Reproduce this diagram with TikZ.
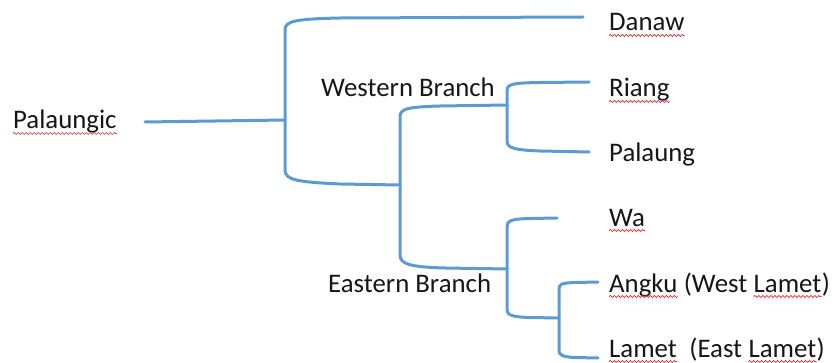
\documentclass[tikz,border=0pt]{standalone}
\usepackage{fontspec}
\setmainfont{Carlito}
\usetikzlibrary{decorations.pathmorphing}
\definecolor{branchblue}{HTML}{5B9BD5}
\definecolor{txt}{HTML}{161616}
\definecolor{splred}{HTML}{E8262A}
\begin{document}
\begin{tikzpicture}[x=1pt,y=-1pt,
  lbl/.style={anchor=base west,inner sep=0pt,text=txt,font=\fontsize{26.8}{30}\selectfont},
  br/.style={draw=branchblue,line width=3pt,line cap=round,line join=round},
  wavy/.style={draw=splred,line width=0.7pt,decorate,decoration={snake,amplitude=1pt,segment length=4pt}}]
\useasboundingbox (0,0) rectangle (834,363);
% labels
\node[lbl] (pal) at (13,129) {Palaungic};
\node[lbl] (west) at (321,97) {Western Branch};
\node[lbl] (east) at (328,292) {Eastern Branch};
\node[lbl] (danaw) at (609,31) {Danaw};
\node[lbl] (riang) at (609,97) {Riang};
\node[lbl] (palaung) at (609,162) {Palaung};
\node[lbl] (wa) at (609,226) {Wa};
\node[lbl] (angku) at (609,292) {Angku};
\node[lbl] (angkub) at (angku.base east) {\ (West\ \null};
\node[lbl] (angkul) at (angkub.base east) {Lamet};
\node[lbl] (angkuc) at (angkul.base east) {)};
\node[lbl] (lamet) at (609,357) {Lamet};
\node[lbl] (lametb) at (lamet.base east) {\ \ (East\ \null};
\node[lbl] (lametl) at (lametb.base east) {Lamet};
\node[lbl] (lametc) at (lametl.base east) {)};
% spelling squiggles
\foreach \n in {pal,danaw,riang,wa,angku,angkul,lamet,lametl}
  \draw[wavy] ([yshift=-4.5pt]\n.base west) -- ([yshift=-4.5pt]\n.base east);
% junctions and free ends
\coordinate (j0) at (285,120);
\coordinate (j1) at (400,185);
\coordinate (j2) at (507,105);
\coordinate (j3) at (507,269);
\coordinate (j4) at (559,318);
\coordinate (e0) at (145,122);
\coordinate (eD) at (583,17);
\coordinate (eR) at (589,82);
\coordinate (eP) at (589,152);
\coordinate (eW) at (557,218);
\coordinate (eA) at (598,282);
\coordinate (eL) at (598,358);
% connectors
\draw[br] (e0) -- (j0);
\draw[br] (eD) -- (340,18) .. controls (295,19) and (285,21) .. (285,30)
  -- (285,170) .. controls (285,180) and (297,182) .. (340,184) -- (j1);
\draw[br] (j2) -- (440,106) .. controls (406,107) and (400,109) .. (400,117)
  -- (400,255) .. controls (400,264) and (410,267) .. (445,268) -- (j3);
\draw[br] (eR) -- (540,82.5) .. controls (512,83) and (507,84) .. (507,91)
  -- (507,141) .. controls (507,148) and (514,150) .. (540,151) -- (eP);
\draw[br] (eW) -- (530,218.5) .. controls (510,219) and (507,221) .. (507,227)
  -- (507,310) .. controls (507,315) and (512,317) .. (530,317.5) -- (j4);
\draw[br] (eA) -- (575,282.5) .. controls (562,283) and (559,284) .. (559,289)
  -- (559,351) .. controls (559,355) and (563,357) .. (575,357.5) -- (eL);
\end{tikzpicture}
\end{document}
